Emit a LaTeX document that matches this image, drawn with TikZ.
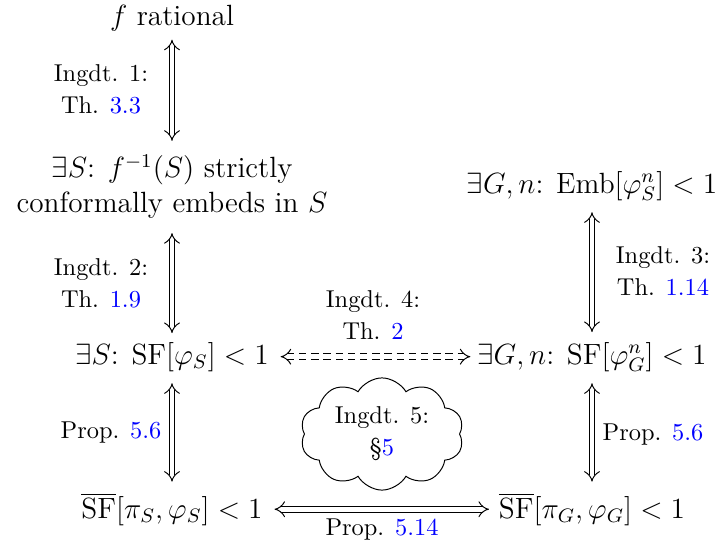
\documentclass[tikz,border=0pt]{standalone}
\usetikzlibrary{arrows.meta,shapes.symbols}
\definecolor{refblue}{RGB}{0,0,255}
\newcommand{\rf}[1]{\textcolor{refblue}{#1}}
\begin{document}
\begin{tikzpicture}[x=0.41pt,y=-0.41pt,
  main/.style={font=\large, inner sep=0pt, outer sep=0pt, anchor=base},
  lab/.style={font=\fontsize{10}{13}\selectfont, inner sep=0pt, align=center, anchor=north},
  equiv/.style={double, double distance=1.9pt, line width=0.4pt, {Implies[scale=1.15]}-{Implies[scale=1.15]}},
  dequiv/.style={equiv, dash pattern=on 3pt off 2pt},
  cloudbox/.style={cloud, draw, cloud puffs=10, cloud puff arc=120, aspect=1.5,
    minimum width=67pt, minimum height=46pt, inner sep=0pt, align=center,
    font=\fontsize{10}{13}\selectfont}
]
\useasboundingbox (0,0) rectangle (722,546);
% main nodes
\node[main] (frat) at (172,25) {$f$ rational};
\node[main, align=center] (emb) at (172,212) {$\exists S$: $f^{-1}(S)$ strictly\\ conformally embeds in $S$};
\node[main] (sfS) at (172,364) {$\exists S$: $\mathrm{SF}[\varphi_S] < 1$};
\node[main] (sfbS) at (172,518) {$\overline{\mathrm{SF}}[\pi_S,\varphi_S] < 1$};
\node[main] (embG) at (592,193) {$\exists G,n$: $\mathrm{Emb}[\varphi^n_S] < 1$};
\node[main] (sfG) at (592,364) {$\exists G,n$: $\mathrm{SF}[\varphi^n_G] < 1$};
\node[main] (sfbG) at (592,518) {$\overline{\mathrm{SF}}[\pi_G,\varphi_G] < 1$};
% labels
\node[lab] (l1) at (101,64) {Ingdt. 1:\\ Th. \rf{3.3}};
\node[lab] (l2) at (101,258) {Ingdt. 2:\\ Th. \rf{1.9}};
\node[lab] (l3) at (111,421) {Prop. \rf{5.6}};
\node[lab] (l4) at (663,246) {Ingdt. 3:\\ Th. \rf{1.14}};
\node[lab] (l5) at (653,423) {Prop. \rf{5.6}};
\node[lab] (l6) at (373,290) {Ingdt. 4:\\ Th. \rf{2}};
\node[lab] (l7) at (382,518) {Prop. \rf{5.14}};
\node[cloudbox] (cl) at (382,434) {Ingdt. 5:\\ \S\rf{5}};
% arrows
\draw[equiv, shorten <=3.7pt, shorten >=5.7pt] (frat.south) -- (emb.north);
\draw[equiv, shorten <=6.2pt, shorten >=3.7pt] (emb.south) -- (sfS.north);
\draw[equiv, shorten <=4.9pt, shorten >=4.7pt] (sfS.south) -- (sfbS.north);
\draw[equiv, shorten <=4.9pt, shorten >=4.1pt] (embG.south) -- (sfG.north);
\draw[equiv, shorten <=4.9pt, shorten >=4.7pt] (sfG.south) -- (sfbG.north);
\draw[dequiv, shorten <=4.9pt, shorten >=2.9pt] (sfS.east) -- (sfG.west |- sfS.east);
\draw[equiv, shorten <=4.9pt, shorten >=4.1pt] (sfbS.east) -- (sfbG.west |- sfbS.east);
\end{tikzpicture}
\end{document}
